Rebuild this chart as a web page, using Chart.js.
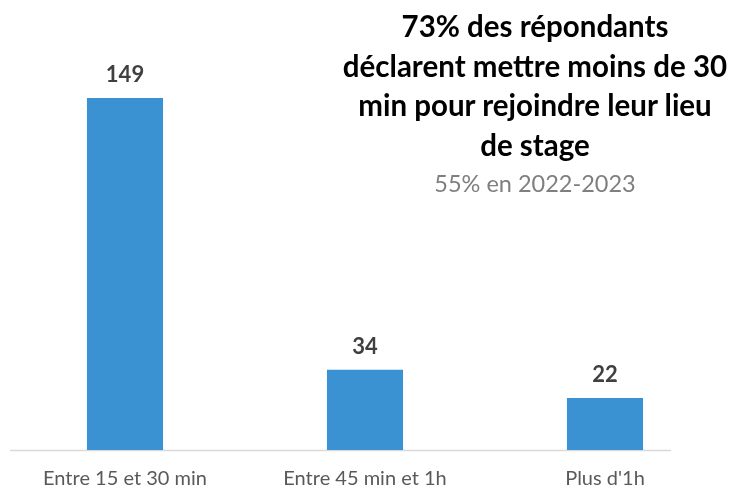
<!DOCTYPE html>
<html>
<head>
<meta charset="utf-8">
<script src="https://cdn.jsdelivr.net/npm/chart.js@4.4.1/dist/chart.umd.min.js"></script>
<style>
  html, body { margin: 0; padding: 0; background: #fff; }
  .wrap { position: relative; width: 735px; height: 488px; }
  .note {
    position: absolute; left: 330px; top: 6px; width: 410px;
    text-align: center; font-family: Lato, "Open Sans", sans-serif;
  }
  .note .main { font-weight: bold; font-size: 29.5px; line-height: 39.5px; color: #000; }
  .note .sub { font-size: 23.5px; color: #7f7f7f; margin-top: 5px; }
</style>
</head>
<body>
<div class="wrap">
  <canvas id="chart" width="735" height="488"></canvas>
  <div class="note">
    <div class="main">73% des répondants<br>déclarent mettre moins de 30<br>min pour rejoindre leur lieu<br>de stage</div>
    <div class="sub">55% en 2022-2023</div>
  </div>
</div>
<script>
const categories = ['Entre 15 et 30 min', 'Entre 45 min et 1h', "Plus d'1h"];
const respondents = [149, 34, 22];

// value labels above each bar
const valueLabels = {
  id: 'valueLabels',
  afterDatasetsDraw(chart) {
    const ctx = chart.ctx;
    const meta = chart.getDatasetMeta(0);
    ctx.save();
    ctx.font = 'bold 22px Lato, "Open Sans", sans-serif';
    ctx.fillStyle = '#404040';
    ctx.textAlign = 'center';
    ctx.textBaseline = 'middle';
    meta.data.forEach((bar, i) => {
      ctx.fillText(String(respondents[i]), bar.x, bar.y - 23);
    });
    ctx.restore();
  }
};

// baseline under the bars
const baseline = {
  id: 'baseline',
  beforeDatasetsDraw(chart) {
    const { ctx, chartArea, scales } = chart;
    const y = scales.y.getPixelForValue(0) + 0.5;
    const xEnd = scales.x.getPixelForValue(categories.length - 1) + 66;
    ctx.save();
    ctx.strokeStyle = '#d9d9d9';
    ctx.lineWidth = 1.5;
    ctx.beginPath();
    ctx.moveTo(chartArea.left + 5, y);
    ctx.lineTo(xEnd, y);
    ctx.stroke();
    ctx.restore();
  }
};

new Chart(document.getElementById('chart'), {
  type: 'bar',
  data: {
    labels: categories,
    datasets: [{
      data: respondents,
      backgroundColor: '#3a92d2',
      categoryPercentage: 1,
      barPercentage: 0.317
    }]
  },
  options: {
    responsive: false,
    animation: false,
    layout: { padding: { top: 72, left: 5, right: 10, bottom: 0 } },
    plugins: { legend: { display: false }, tooltip: { enabled: false } },
    scales: {
      x: {
        grid: { display: false, drawTicks: false },
        border: { display: false },
        afterFit(scale) { scale.height = 38; },
        ticks: {
          color: '#595959',
          padding: 17,
          font: { family: 'Lato, "Open Sans", sans-serif', size: 20 }
        }
      },
      y: {
        display: false,
        min: 0,
        max: 160
      }
    }
  },
  plugins: [baseline, valueLabels]
});
</script>
</body>
</html>
